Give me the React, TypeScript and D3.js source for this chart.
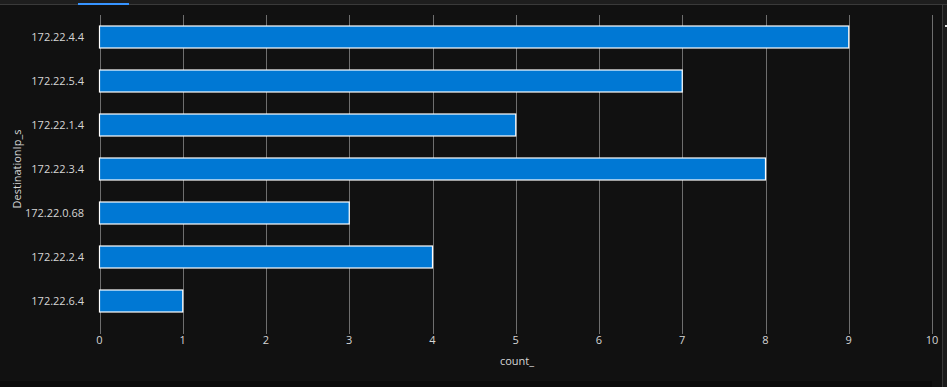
import { useMemo } from "react";
import * as d3 from "d3";

const WIDTH = 947;
const HEIGHT = 387;

const categories = [
  "172.22.4.4",
  "172.22.5.4",
  "172.22.1.4",
  "172.22.3.4",
  "172.22.0.68",
  "172.22.2.4",
  "172.22.6.4",
];
const counts = [9, 7, 5, 8, 3, 4, 1];
const xTicks = [0, 1, 2, 3, 4, 5, 6, 7, 8, 9, 10];

const FONT = "'Segoe UI', 'Open Sans', 'Noto Sans', sans-serif";

export default function App() {
  const x = useMemo(() => d3.scaleLinear().domain([0, 10]).range([99.5, 932]), []);
  const y = useMemo(
    () =>
      d3
        .scaleBand()
        .domain(categories)
        .range([15, 323])
        .paddingInner(0.5)
        .paddingOuter(0.25),
    []
  );

  return (
    <svg
      width={WIDTH}
      height={HEIGHT}
      style={{ position: "absolute", left: 0, top: 0, display: "block" }}
    >
      <rect width={WIDTH} height={HEIGHT} fill="#111111" />
      {/* top tab strip */}
      <rect x={0} y={0} width={WIDTH} height={4} fill="#1e1e1e" />
      <rect x={0} y={4} width={WIDTH} height={1} fill="#3a3a3a" />
      <rect x={78} y={3} width={51} height={2} fill="#3794ff" />
      {/* right edge */}
      <rect x={942} y={5} width={1} height={HEIGHT} fill="#3a3a3a" />
      <rect x={943} y={5} width={4} height={HEIGHT} fill="#1b1b1b" />
      <rect x={945} y={25} width={2} height={2} fill="#dddddd" />
      {/* bottom strip */}
      <rect x={0} y={381} width={932} height={6} fill="#0b0b0b" />

      {/* grid lines */}
      {xTicks.map((t) => (
        <line
          key={t}
          x1={Math.round(x(t)) + 0.5}
          x2={Math.round(x(t)) + 0.5}
          y1={15}
          y2={334}
          stroke="#6e6e6e"
          strokeWidth={1}
        />
      ))}

      {/* bars */}
      {categories.map((c, i) => (
        <rect
          key={c}
          x={x(0)}
          y={y(c)!}
          width={x(counts[i]) - x(0)}
          height={y.bandwidth()}
          fill="#0078d4"
          stroke="#ffffff"
          strokeWidth={1.2}
        />
      ))}

      {/* y labels */}
      {categories.map((c) => (
        <text
          key={c}
          x={84}
          y={y(c)! + y.bandwidth() / 2}
          dy="0.35em"
          textAnchor="end"
          fill="#d6d6d6"
          fontSize={11}
          fontFamily={FONT}
        >
          {c}
        </text>
      ))}

      {/* x tick labels */}
      {xTicks.map((t) => (
        <text
          key={t}
          x={x(t)}
          y={340}
          dy="0.35em"
          textAnchor="middle"
          fill="#d6d6d6"
          fontSize={11}
          fontFamily={FONT}
        >
          {t}
        </text>
      ))}

      <text
        x={517}
        y={361}
        dy="0.35em"
        textAnchor="middle"
        fill="#d6d6d6"
        fontSize={11}
        fontFamily={FONT}
      >
        count_
      </text>
      <text
        transform={`translate(17, 169) rotate(-90)`}
        dy="0.35em"
        textAnchor="middle"
        fill="#d6d6d6"
        fontSize={11}
        fontFamily={FONT}
      >
        DestinationIp_s
      </text>
    </svg>
  );
}
